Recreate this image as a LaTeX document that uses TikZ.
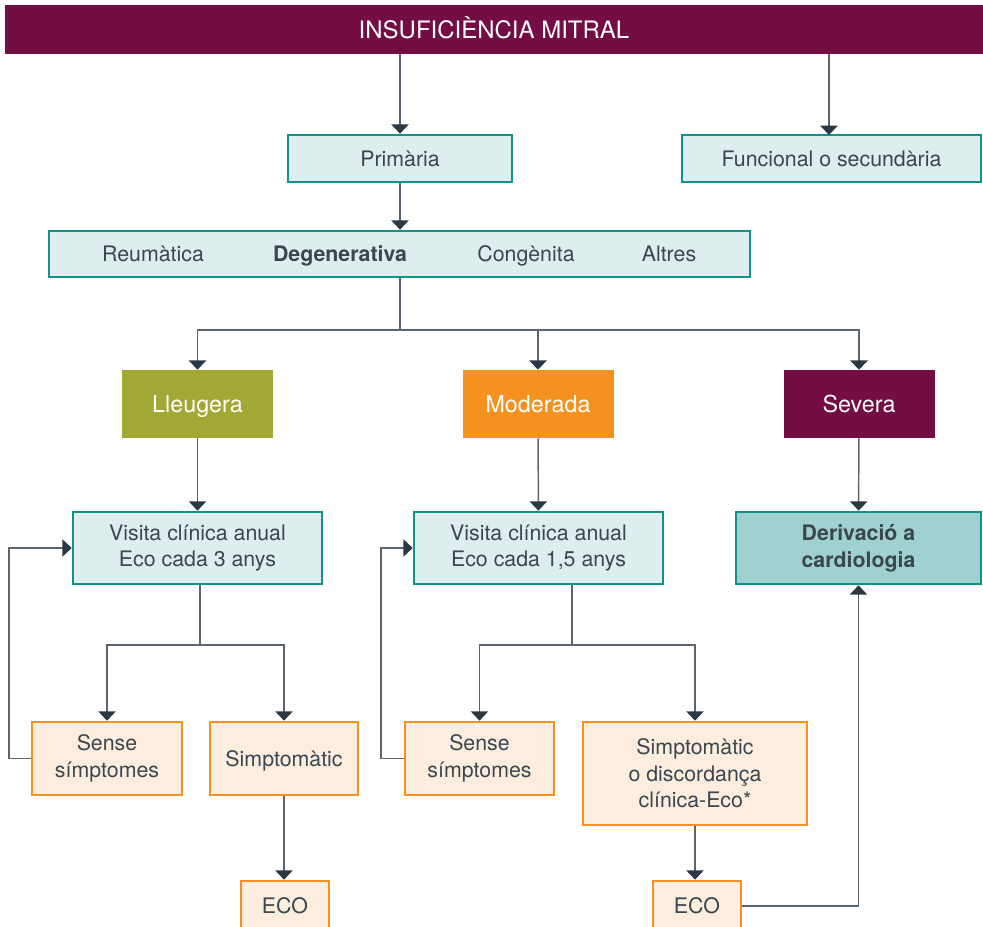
\documentclass[tikz,border=0pt]{standalone}
\usepackage{fontspec}
\setmainfont{TeX Gyre Heros}
\usetikzlibrary{arrows.meta}

\definecolor{maroon}{HTML}{730D43}
\definecolor{olive}{HTML}{A2A834}
\definecolor{orange}{HTML}{F39221}
\definecolor{tealline}{HTML}{13928C}
\definecolor{teallight}{HTML}{DEEDED}
\definecolor{tealmid}{HTML}{A0D1D1}
\definecolor{orglight}{HTML}{FDEDDF}
\definecolor{txtgray}{HTML}{3A4650}
\definecolor{wiregray}{HTML}{5A6570}
\definecolor{tipgray}{HTML}{2C3744}

\tikzset{
	sz/.style 2 args={minimum width=#1*0.75pt, minimum height=#2*0.75pt},
	base/.style={draw, line width=2pt, inner sep=0pt, align=center, text=txtgray,
		font=\fontsize{16}{20}\selectfont},
	tealbox/.style={base, draw=tealline, fill=teallight},
	orgbox/.style={base, draw=orange, fill=orglight},
	oneline/.style={text height=11.5pt, text depth=0pt},
	levelbox/.style={fill=#1, inner sep=0pt, text=white, sz={151}{68},
		text height=12.5pt, text depth=0pt, font=\fontsize{17.5}{21}\selectfont},
	barlabel/.style={anchor=base, inner sep=0pt, text=txtgray, font=\fontsize{16}{20}\selectfont},
	wire/.style={draw=wiregray, line width=1.1pt},
	arr/.style={wire, -{Triangle[width=13pt,length=7pt,color=tipgray]}}
}

\begin{document}
\begin{tikzpicture}[x=0.75pt, y=-0.75pt]
		%%%%% START %%%%%
		\useasboundingbox (0,0) rectangle (983,927);
		\clip (0,0) rectangle (983,927);
		
		\node[fill=maroon, sz={978}{49}, text=white, text height=13pt, text depth=0pt,
			font=\fontsize{18}{22}\selectfont] (banner) at (494,29.5) {INSUFICIÈNCIA MITRAL};
		
		\node[tealbox, oneline, sz={224}{47}] (prim) at (400,158.5) {Primària};
		\node[tealbox, oneline, sz={299}{47}] (func) at (831.5,158.5) {Funcional o secundària};
		
		\node[tealbox, sz={701}{46}] (types) at (399.5,254) {};
		\node[barlabel] (reum) at (153,262) {Reumàtica};
		\node[barlabel, font=\fontsize{16}{20}\selectfont\bfseries] (dege) at (340,262) {Degenerativa};
		\node[barlabel] (cong) at (526,262) {Congènita};
		\node[barlabel] (altr) at (669,262) {Altres};
		
		\node[levelbox=olive] (lleu) at (197.5,404) {Lleugera};
		\node[levelbox=orange] (mod) at (538,404) {Moderada};
		\node[levelbox=maroon] (sev) at (859,404) {Severa};
		
		\node[tealbox, sz={249}{72}] (vis1) at (197.5,548) {Visita clínica anual\\Eco cada 3 anys};
		\node[tealbox, sz={249}{72}] (vis2) at (538.5,548) {Visita clínica anual\\Eco cada 1,5 anys};
		\node[tealbox, fill=tealmid, sz={245}{72}, font=\fontsize{16}{20}\selectfont\bfseries] (deriv) at (858.5,548) {Derivació a\\cardiologia};
		
		\node[orgbox, sz={150}{73}] (sense1) at (107,758.5) {Sense\\símptomes};
		\node[orgbox, oneline, sz={148}{73}] (simp1) at (284,758.5) {Simptomàtic};
		\node[orgbox, sz={149}{73}] (sense2) at (479.5,758.5) {Sense\\símptomes};
		\node[orgbox, sz={224}{103}] (simp2) at (695,773.5) {Simptomàtic\\o discordança\\clínica-Eco*};
		
		\node[orgbox, oneline, sz={88}{50}] (eco1) at (285,906) {ECO};
		\node[orgbox, oneline, sz={88}{50}] (eco2) at (697,906) {ECO};
		
		% connectors
		\draw[arr] (banner.south -| prim) -- (prim);
		\draw[arr] (banner.south -| 829,0) -- (829,135);
		\draw[arr] (prim.south) -- (prim.south |- types.north);
		
		\coordinate (split1) at (400,330);
		\draw[wire] (types.south -| split1) -- (split1);
		\foreach \n in {lleu,mod,sev}
			\draw[arr] (split1) -| (\n);
		
		\draw[arr] (lleu) -- (vis1);
		\draw[arr] (mod) -- (vis2);
		\draw[arr] (sev) -- (deriv);
		
		\coordinate (split2) at (200,645);
		\draw[wire] (vis1.south -| split2) -- (split2);
		\draw[arr] (split2) -| (sense1);
		\draw[arr] (split2) -| (simp1);
		
		\coordinate (split3) at (572,645);
		\draw[wire] (vis2.south -| split3) -- (split3);
		\draw[arr] (split3) -| (sense2);
		\draw[arr] (split3) -| (simp2);
		
		\coordinate (back1) at (9,548);
		\coordinate (back2) at (381,548);
		\draw[arr] (sense1.west) -| (back1) -- (vis1.west);
		\draw[arr] (sense2.west) -| (back2) -- (vis2.west);
		
		\draw[arr] (simp1.south) -- (simp1.south |- eco1.north);
		\draw[arr] (simp2.south) -- (simp2.south |- eco2.north);
		\draw[arr] (eco2) -| (deriv);
		
		%%%%% END %%%%%
	\end{tikzpicture}
\end{document}
